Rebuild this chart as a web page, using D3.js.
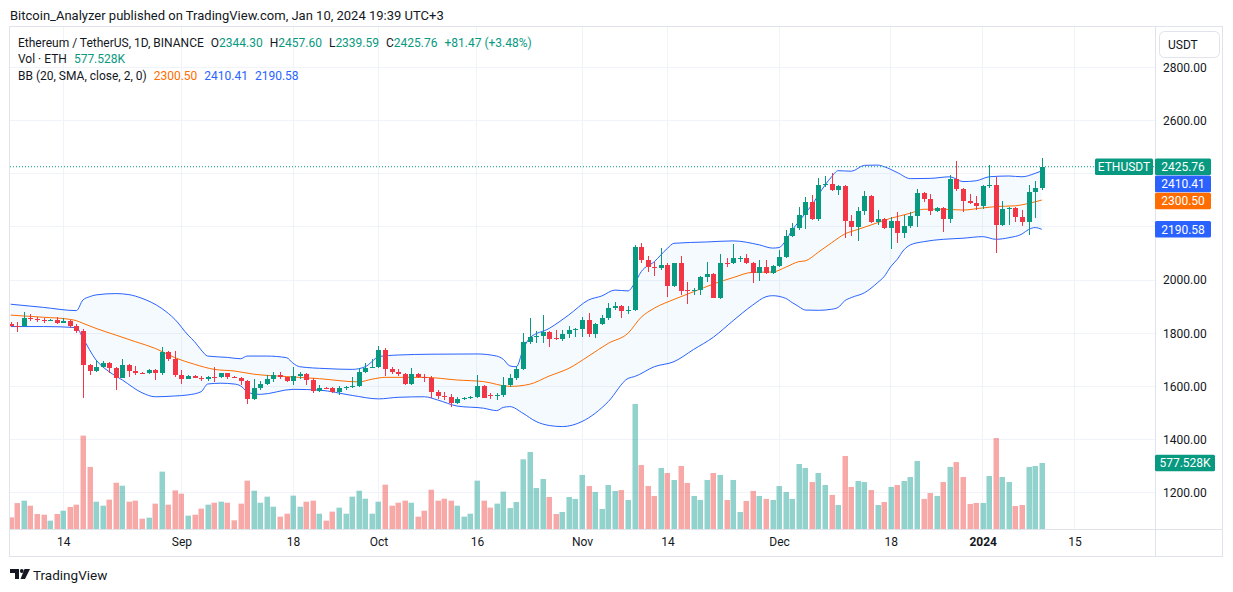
<!DOCTYPE html>
<html>
<head>
<meta charset="utf-8">
<script src="https://cdn.jsdelivr.net/npm/d3@7"></script>
<style>
body { margin: 0; background: #fff; }
svg text { font-family: Roboto, "Noto Sans", sans-serif; fill: #131722; }
</style>
</head>
<body>
<svg width="1233" height="592"></svg>
<script>
const width = 1233
const height = 592

// daily candles, 2023-08-06 .. 2024-01-10 (ETH/USDT, Binance)
const firstDay = "2023-08-06"
const lastDay = "2024-01-10"
const open = [1836,1828,1827,1858,1852,1850,1848,1850,1840,1846,1828,1808,1680,1659,1672,1689,1668,1633,1680,1659,1652,1649,1662,1652,1731,1703,
  1643,1628,1640,1633,1628,1635,1634,1649,1634,1633,1620,1551,1595,1608,1627,1643,1634,1620,1639,1647,1624,1583,1595,1593,1580,1593,1599,1603,1655,1670,
  1674,1737,1665,1653,1645,1609,1647,1637,1633,1580,1565,1561,1539,1553,1557,1559,1602,1567,1564,1566,1605,1630,1665,1766,1785,1788,1806,1781,1778,1796,1812,
  1816,1850,1797,1833,1856,1894,1901,1885,1889,2123,2075,2050,2044,2056,1979,2063,1962,1960,1962,2011,2023,1934,2065,2063,2081,2083,2063,2025,2048,2025,
  2052,2085,2165,2194,2244,2294,2229,2357,2361,2338,2353,2222,2200,2259,2316,2219,2229,2197,2222,2178,2203,2242,2328,2304,2261,2272,2229,2380,2342,2297,2291,
  2279,2353,2356,2207,2266,2270,2238,2219,2330,2344.30]
const high = [1841,1843,1878,1871,1862,1856,1853,1862,1856,1850,1836,1815,1684,1699,1695,1693,1674,1703,1684,1677,1656,1665,1665,1749,1734,1733,
  1662,1643,1644,1640,1638,1672,1652,1652,1638,1635,1623,1627,1621,1643,1653,1655,1636,1672,1655,1652,1630,1605,1598,1599,1601,1602,1636,1668,1687,1702,
  1752,1743,1674,1664,1652,1668,1652,1647,1639,1587,1580,1571,1561,1561,1563,1643,1606,1575,1576,1637,1647,1675,1800,1856,1810,1869,1810,1812,1812,1827,1821,
  1860,1875,1837,1868,1912,1919,1906,1902,2132,2138,2090,2066,2119,2063,2065,2090,1991,1971,2015,2066,2025,2097,2084,2135,2092,2098,2069,2075,2075,2057,
  2113,2188,2213,2276,2313,2319,2385,2391,2403,2357,2357,2244,2276,2336,2320,2263,2232,2238,2257,2244,2257,2342,2332,2322,2276,2276,2395,2447,2347,2323,2317,
  2357,2432,2388,2297,2273,2273,2263,2357,2373,2457.60]
const low = [1824,1806,1825,1846,1843,1840,1845,1836,1837,1818,1800,1555,1643,1655,1668,1650,1587,1630,1637,1643,1645,1647,1624,1643,1697,1637,
  1609,1626,1630,1620,1620,1618,1630,1628,1631,1605,1534,1549,1586,1605,1615,1628,1615,1605,1627,1605,1574,1580,1590,1576,1568,1585,1593,1597,1649,1668,
  1668,1640,1647,1640,1605,1605,1633,1618,1555,1553,1549,1521,1535,1550,1552,1555,1556,1553,1549,1561,1599,1625,1662,1760,1762,1762,1749,1773,1771,1781,1784,
  1787,1787,1781,1831,1850,1887,1856,1872,1884,2063,2031,2016,2038,1937,1973,1944,1910,1944,1944,1994,1931,1929,2048,2060,2069,2060,1990,1996,2021,2021,
  2047,2081,2160,2188,2190,2225,2223,2351,2336,2320,2159,2165,2148,2244,2215,2207,2190,2116,2138,2159,2194,2200,2292,2244,2257,2182,2215,2336,2257,2285,2263,
  2267,2345,2103,2204,2207,2219,2204,2169,2232,2339.59]
const close = [1828,1827,1858,1852,1850,1848,1850,1840,1846,1828,1808,1680,1659,1672,1689,1668,1633,1680,1659,1652,1649,1662,1652,1731,1703,1643,
  1628,1640,1633,1628,1635,1634,1649,1634,1633,1620,1551,1595,1608,1627,1643,1634,1620,1639,1647,1624,1583,1595,1593,1580,1593,1599,1603,1655,1670,1674,
  1737,1665,1653,1645,1609,1647,1637,1633,1580,1565,1561,1539,1553,1557,1559,1602,1558,1564,1566,1605,1630,1665,1766,1785,1788,1806,1778,1778,1796,1812,1816,
  1850,1797,1833,1856,1894,1901,1885,1889,2123,2075,2050,2044,2056,1979,2063,1960,1960,1962,2011,2023,1934,2065,2063,2081,2083,2063,2025,2048,2025,2052,
  2085,2165,2194,2244,2294,2229,2357,2361,2338,2353,2222,2200,2259,2316,2219,2229,2197,2222,2178,2203,2242,2328,2304,2261,2272,2229,2380,2342,2297,2291,2279,
  2353,2356,2207,2266,2270,2238,2219,2330,2344.30,2425.76]
// volume in thousands of ETH
const volume = [102,227,248,204,131,125,73,131,160,193,213,817,543,239,204,257,405,379,239,248,90,99,222,502,213,338,
  309,117,125,178,213,230,239,230,76,222,423,335,230,283,195,108,134,292,195,239,248,134,73,152,187,134,283,335,265,134,
  239,388,204,230,248,230,108,160,344,248,265,248,204,108,134,423,248,187,222,327,183,236,610,674,359,438,280,131,149,280,263,
  473,376,324,175,385,333,341,254,1094,560,376,289,534,490,429,551,403,289,254,429,490,473,254,429,149,245,333,289,263,254,
  376,324,263,569,534,411,490,385,298,210,639,368,420,411,341,210,236,368,385,420,455,595,263,315,289,411,543,586,455,219,228,
  228,464,796,455,411,201,210,543,551,577.528]

// Bollinger Bands (20, SMA, close, 2)
const bbUpperDates = ["2023-08-06","2023-08-11","2023-08-16","2023-08-17","2023-08-18","2023-08-19","2023-08-22","2023-08-24","2023-08-26","2023-08-29","2023-08-31",
  "2023-09-02","2023-09-03","2023-09-04","2023-09-05","2023-09-08","2023-09-10","2023-09-11","2023-09-14","2023-09-17","2023-09-18","2023-09-19","2023-09-23","2023-09-27","2023-09-29","2023-09-30",
  "2023-10-01","2023-10-04","2023-10-09","2023-10-16","2023-10-19","2023-10-20","2023-10-21","2023-10-22","2023-10-23","2023-10-24","2023-10-27","2023-10-30",
  "2023-11-02","2023-11-04","2023-11-06","2023-11-08","2023-11-09","2023-11-10","2023-11-12","2023-11-14","2023-11-15","2023-11-20","2023-11-24","2023-11-28","2023-11-30",
  "2023-12-01","2023-12-02","2023-12-03","2023-12-04","2023-12-05","2023-12-06","2023-12-07","2023-12-08","2023-12-09","2023-12-10","2023-12-12","2023-12-14","2023-12-16","2023-12-17","2023-12-19","2023-12-21","2023-12-24","2023-12-27","2023-12-29","2023-12-31",
  "2024-01-02","2024-01-05","2024-01-07","2024-01-09","2024-01-10"]
const bbUpper = [1909,1897,1885,1925,1937,1944,1949,1945,1931,1893,1852,
  1793,1768,1737,1714,1709,1704,1714,1714,1708,1687,1674,1667,1664,1674,1693,
  1712,1718,1721,1722,1714,1702,1677,1674,1737,1781,1818,1869,
  1925,1940,1962,1959,1988,2031,2069,2119,2138,2143,2147,2132,2120,
  2122,2148,2188,2219,2251,2282,2320,2357,2388,2411,2409,2431,2432,2426,2404,2381,2382,2388,2370,2373,
  2388,2391,2388,2401,2410.41]
const bbBasisDates = ["2023-08-06","2023-08-11","2023-08-15","2023-08-16","2023-08-17","2023-08-19","2023-08-22","2023-08-25","2023-08-28","2023-08-31",
  "2023-09-03","2023-09-06","2023-09-09","2023-09-12","2023-09-17","2023-09-22","2023-09-28","2023-09-30",
  "2023-10-02","2023-10-08","2023-10-13","2023-10-17","2023-10-21","2023-10-24","2023-10-27","2023-10-30",
  "2023-11-02","2023-11-05","2023-11-08","2023-11-10","2023-11-12","2023-11-15","2023-11-18","2023-11-21","2023-11-24","2023-11-27","2023-11-30",
  "2023-12-02","2023-12-04","2023-12-05","2023-12-07","2023-12-09","2023-12-11","2023-12-13","2023-12-15","2023-12-18","2023-12-21","2023-12-23","2023-12-26","2023-12-29",
  "2024-01-01","2024-01-03","2024-01-06","2024-01-08","2024-01-10"]
const bbBasis = [1868,1860,1852,1847,1837,1818,1793,1768,1743,1708,
  1683,1664,1658,1646,1637,1629,1617,1627,
  1634,1634,1624,1618,1600,1608,1639,1668,
  1714,1762,1800,1860,1894,1927,1956,1985,2009,2029,2030,
  2048,2069,2072,2105,2140,2173,2190,2207,2232,2251,2266,2266,2263,
  2271,2276,2279,2288,2300.50]
const bbLowerDates = ["2023-08-06","2023-08-11","2023-08-16","2023-08-17","2023-08-19","2023-08-21","2023-08-23","2023-08-26","2023-08-28","2023-08-31",
  "2023-09-02","2023-09-04","2023-09-05","2023-09-07","2023-09-09","2023-09-10","2023-09-11","2023-09-12","2023-09-13","2023-09-18","2023-09-22","2023-09-27",
  "2023-10-01","2023-10-04","2023-10-08","2023-10-10","2023-10-13","2023-10-17","2023-10-19","2023-10-20","2023-10-21","2023-10-23","2023-10-25","2023-10-27","2023-10-29",
  "2023-11-01","2023-11-03","2023-11-05","2023-11-08","2023-11-09","2023-11-12","2023-11-15","2023-11-18","2023-11-21","2023-11-24","2023-11-27","2023-11-29","2023-11-30",
  "2023-12-02","2023-12-03","2023-12-04","2023-12-05","2023-12-07","2023-12-09","2023-12-10","2023-12-11","2023-12-12","2023-12-14","2023-12-16","2023-12-17","2023-12-18","2023-12-19","2023-12-20","2023-12-21","2023-12-23","2023-12-26","2023-12-29",
  "2024-01-01","2024-01-03","2024-01-05","2024-01-07","2024-01-08","2024-01-09","2024-01-10"]
const bbLower = [1825,1825,1821,1781,1699,1655,1624,1576,1561,1564,
  1568,1580,1609,1612,1609,1602,1580,1572,1570,1589,1586,1566,
  1553,1559,1561,1549,1526,1518,1509,1521,1524,1499,1468,1453,1449,
  1468,1499,1543,1630,1637,1674,1693,1739,1785,1847,1906,1937,1941,
  1931,1915,1900,1887,1886,1890,1897,1922,1934,1952,1990,2013,2050,2078,2113,2132,2144,2153,2157,
  2163,2153,2159,2173,2190,2197,2190.58]

const priceGrid = [1200,1400,1600,1800,2000,2200,2400,2600,2800]
const priceLabels = [1200,1400,1600,1800,2000,2600,2800]
const timeTicks = ["2023-08-14","2023-09-01","2023-09-18","2023-10-01","2023-10-16","2023-11-01","2023-11-14","2023-12-01","2023-12-18","2024-01-01","2024-01-15"]
const timeTickLabels = ["14","Sep","18","Oct","16","Nov","14","Dec","18","2024","15"]

const upColor = "#089981"
const downColor = "#f23645"
const blue = "#2962ff"
const orange = "#ff6d00"
const ink = "#131722"
const plot = {left: 10, right: 1155, top: 27, bottom: 529}

const parse = d3.utcParse("%Y-%m-%d")
const days = d3.utcDay.range(parse(firstDay), d3.utcDay.offset(parse(lastDay), 1))
const bars = days.map((d, i) => ({date: d, o: open[i], h: high[i], l: low[i], c: close[i], v: volume[i]}))

const x = d3.scaleUtc().domain([parse("2023-08-06"), parse("2024-01-15")]).range([10.7, 1074.6])
const y = d3.scaleLinear().domain([1200, 2800]).range([492.8, 67.2])
const yVol = d3.scaleLinear().domain([0, d3.max(volume)]).range([529, 404])

const svg = d3.select("svg")

svg.append("text").attr("x", 10).attr("y", 19.5).style("font-size", "13px")
  .text("Bitcoin_Analyzer published on TradingView.com, Jan 10, 2024 19:39 UTC+3")

svg.append("rect").attr("x", 9.5).attr("y", 26.5).attr("width", 1213).attr("height", 530)
  .attr("fill", "#fff").attr("stroke", "#e0e3eb")

// grid
const grid = svg.append("g").attr("stroke", "#f0f3fa").attr("shape-rendering", "crispEdges")
grid.selectAll(".h").data(priceGrid).enter().append("line")
  .attr("x1", plot.left).attr("x2", plot.right).attr("y1", d => y(d)).attr("y2", d => y(d))
grid.selectAll(".v").data(timeTicks).enter().append("line")
  .attr("x1", d => x(parse(d))).attr("x2", d => x(parse(d))).attr("y1", plot.top).attr("y2", plot.bottom)

svg.append("defs").append("clipPath").attr("id", "plotclip").append("rect")
  .attr("x", plot.left).attr("y", plot.top).attr("width", plot.right - plot.left).attr("height", plot.bottom - plot.top)
const g = svg.append("g").attr("clip-path", "url(#plotclip)")

// bollinger fill
const line = d3.line().x(d => x(d[0])).y(d => y(d[1])).curve(d3.curveMonotoneX)
const upPts = bbUpperDates.map((d, i) => [parse(d), bbUpper[i]])
const midPts = bbBasisDates.map((d, i) => [parse(d), bbBasis[i]])
const loPts = bbLowerDates.map((d, i) => [parse(d), bbLower[i]])
g.append("path").attr("d", line(upPts) + line(loPts.slice().reverse()).replace(/^M/, "L") + "Z")
  .attr("fill", "rgba(33,150,243,0.05)")

// volume
g.append("g").selectAll("rect").data(bars).enter().append("rect")
  .attr("x", d => Math.round(x(d.date)) - 2.5).attr("width", 5.5)
  .attr("y", d => yVol(d.v)).attr("height", d => yVol(0) - yVol(d.v))
  .attr("fill", d => d.c >= d.o ? "rgba(38,166,154,0.5)" : "rgba(239,83,80,0.5)")

// band lines
g.append("path").attr("d", line(upPts)).attr("fill", "none").attr("stroke", blue).attr("stroke-width", 1)
g.append("path").attr("d", line(loPts)).attr("fill", "none").attr("stroke", blue).attr("stroke-width", 1)
g.append("path").attr("d", line(midPts)).attr("fill", "none").attr("stroke", orange).attr("stroke-width", 1)

// candles
const candle = g.append("g").attr("shape-rendering", "crispEdges").selectAll("g").data(bars).enter().append("g")
  .attr("fill", d => d.c >= d.o ? upColor : downColor)
candle.append("rect").attr("x", d => Math.round(x(d.date))).attr("width", 1)
  .attr("y", d => y(d.h)).attr("height", d => y(d.l) - y(d.h))
candle.append("rect").attr("x", d => Math.round(x(d.date)) - 2).attr("width", 5)
  .attr("y", d => y(Math.max(d.o, d.c))).attr("height", d => Math.max(1, Math.abs(y(d.o) - y(d.c))))

const last = bars[bars.length - 1]
svg.append("line").attr("x1", plot.left).attr("x2", plot.right).attr("y1", y(last.c)).attr("y2", y(last.c))
  .attr("stroke", upColor).attr("stroke-dasharray", "1,2")

// separators
svg.append("line").attr("x1", 1155.5).attr("x2", 1155.5).attr("y1", 27).attr("y2", 556).attr("stroke", "#e0e3eb")
svg.append("line").attr("x1", 10).attr("x2", 1222).attr("y1", 529.5).attr("y2", 529.5).attr("stroke", "#e0e3eb")

// legend rows, items laid out one after another
const legend = svg.append("g").style("font-size", "12px")
function legendRow(yPos, items) {
  let cx = 18
  items.forEach(parts => {
    const t = legend.append("text").attr("x", cx).attr("y", yPos)
    parts.forEach(p => t.append("tspan").style("fill", p[1]).text(p[0]))
    cx += t.node().getComputedTextLength() + 7
  })
}
legendRow(46.5, [
  [["Ethereum / TetherUS, 1D, BINANCE", ink]],
  [["O", ink], ["2344.30", upColor]],
  [["H", ink], ["2457.60", upColor]],
  [["L", ink], ["2339.59", upColor]],
  [["C", ink], ["2425.76", upColor]],
  [["+81.47 (+3.48%)", upColor]]
])
legendRow(62.5, [[["Vol · ETH", ink]], [["577.528K", upColor]]])
legendRow(79.5, [[["BB (20, SMA, close, 2, 0)", ink]], [["2300.50", orange]], [["2410.41", blue]], [["2190.58", blue]]])

// axes
const yAxis = svg.append("g").attr("transform", "translate(1157,0)")
  .call(d3.axisRight(y).tickValues(priceLabels).tickFormat(d3.format(".2f")).tickSize(0).tickPadding(6))
yAxis.select(".domain").remove()
yAxis.selectAll("text").style("font-size", "12px").style("font-family", "Roboto").attr("fill", ink)

const xAxis = svg.append("g").attr("transform", "translate(0," + plot.bottom + ")")
  .call(d3.axisBottom(x).tickValues(timeTicks.map(parse)).tickFormat((d, i) => timeTickLabels[i]).tickSize(0).tickPadding(8))
xAxis.select(".domain").remove()
xAxis.selectAll("text").style("font-size", "12px").style("font-family", "Roboto").attr("fill", ink)
  .style("font-weight", (d, i) => timeTickLabels[i] === "2024" ? "bold" : "normal")

// price scale labels
const tags = [
  {v: last.c, text: "2425.76", color: upColor},
  {v: 2410.41, text: "2410.41", color: blue},
  {v: 2300.50, text: "2300.50", color: orange},
  {v: 2190.58, text: "2190.58", color: blue}
]
let prevBottom = -Infinity
tags.forEach(t => {
  let top = Math.max(y(t.v) - 8.3, prevBottom + 0.5)
  prevBottom = top + 16.6
  t.top = top
})
const tagG = svg.append("g").selectAll("g").data(tags).enter().append("g")
tagG.append("rect").attr("x", 1155).attr("y", d => d.top).attr("width", 56).attr("height", 16.6).attr("rx", 1.5).attr("fill", d => d.color)
tagG.append("text").attr("x", 1183).attr("y", d => d.top + 12.5).attr("text-anchor", "middle")
  .style("font-size", "12px").style("fill", "#fff").text(d => d.text)

svg.append("rect").attr("x", 1095).attr("y", tags[0].top).attr("width", 58).attr("height", 16.6).attr("rx", 1.5).attr("fill", upColor)
svg.append("text").attr("x", 1124).attr("y", tags[0].top + 12.5).attr("text-anchor", "middle")
  .style("font-size", "12px").style("fill", "#fff").text("ETHUSDT")

svg.append("rect").attr("x", 1155).attr("y", yVol(last.v) - 8.3).attr("width", 60).attr("height", 16.6).attr("rx", 1.5).attr("fill", upColor)
svg.append("text").attr("x", 1185).attr("y", yVol(last.v) + 4.2).attr("text-anchor", "middle")
  .style("font-size", "12px").style("fill", "#fff").text("577.528K")

// currency button
svg.append("rect").attr("x", 1159.5).attr("y", 31.5).attr("width", 60).attr("height", 26).attr("rx", 5)
  .attr("fill", "#fff").attr("stroke", "#e0e3eb")
svg.append("text").attr("x", 1168).attr("y", 49).style("font-size", "12px").text("USDT")

// footer logo
const logo = svg.append("g").attr("fill", ink)
logo.append("path").attr("d", "M10 569h9v10h-4v-6h-5z")
logo.append("circle").attr("cx", 21.8).attr("cy", 571).attr("r", 1.9)
logo.append("path").attr("d", "M24.5 569h5.5l-5 10h-4.5z")
svg.append("text").attr("x", 33).attr("y", 579.5).style("font-size", "13.5px").text("TradingView")
</script>
</body>
</html>
